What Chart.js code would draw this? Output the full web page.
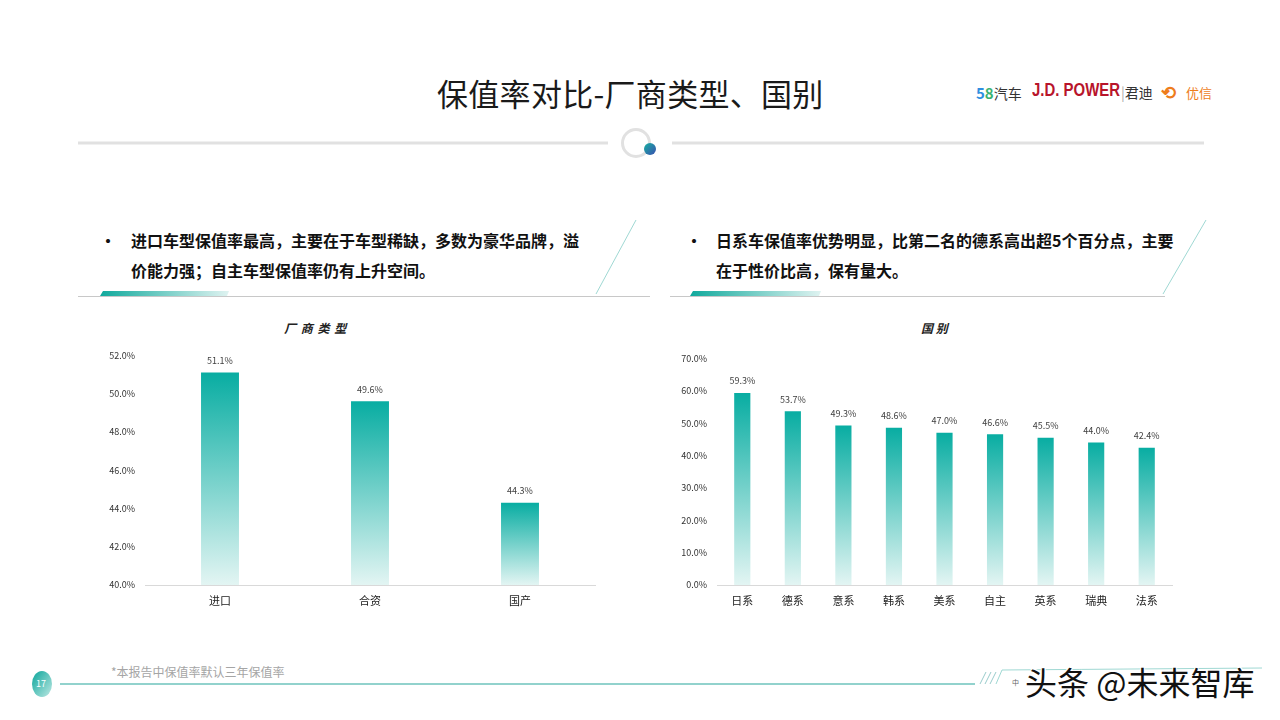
<!DOCTYPE html>
<html><head><meta charset="utf-8">
<script src="https://cdn.jsdelivr.net/npm/chart.js@4.4.0/dist/chart.umd.min.js"></script>
<style>
html,body{margin:0;padding:0;background:#fff;}
body{width:1280px;height:720px;position:relative;overflow:hidden;font-family:"Noto Sans CJK SC","Noto Sans",sans-serif;color:#222;}
.abs{position:absolute;white-space:nowrap;}
.bullet{font-weight:bold;font-size:16px;color:#111;line-height:30px;}
.ctitle{font-weight:bold;font-style:italic;font-size:12px;color:#222;}
</style></head><body>
<svg class="abs" style="left:0;top:0" width="1280" height="720">
  <defs>
    <linearGradient id="tg" x1="0" x2="1" y1="0" y2="0"><stop offset="0" stop-color="#10a99c"/><stop offset="1" stop-color="#dff3f1"/></linearGradient>
    <linearGradient id="tl" x1="0" x2="1" y1="0" y2="0"><stop offset="0" stop-color="#ffffff"/><stop offset="1" stop-color="#3bb7ad"/></linearGradient>
    <linearGradient id="pg" x1="0" x2="1" y1="0" y2="1"><stop offset="0" stop-color="#0aa59a"/><stop offset="1" stop-color="#bfe9e4"/></linearGradient>
    <linearGradient id="dot" x1="0" x2="1" y1="0" y2="1"><stop offset="0" stop-color="#17b0a0"/><stop offset="1" stop-color="#3a4fb0"/></linearGradient>
  </defs>
  <line x1="78" y1="143" x2="608" y2="143" stroke="#e1e1e1" stroke-width="3"/>
  <line x1="672" y1="143" x2="1204" y2="143" stroke="#e1e1e1" stroke-width="3"/>
  <circle cx="636" cy="143" r="13.5" fill="none" stroke="#e1e1e1" stroke-width="3"/>
  <circle cx="650" cy="149" r="6" fill="url(#dot)"/>
  <!-- left box -->
  <line x1="470" y1="220" x2="636" y2="220" stroke="url(#tl)" stroke-width="1"/>
  <line x1="636" y1="220" x2="596" y2="294" stroke="#9fd8d3" stroke-width="1"/>
  <line x1="78" y1="296.5" x2="650" y2="296.5" stroke="#c8c8c8" stroke-width="1"/>
  <polygon points="103,291 229,291 227,296 100,296" fill="url(#tg)"/>
  <!-- right box -->
  <line x1="1060" y1="220" x2="1206" y2="220" stroke="url(#tl)" stroke-width="1"/>
  <line x1="1206" y1="220" x2="1163" y2="294" stroke="#9fd8d3" stroke-width="1"/>
  <line x1="670" y1="296.5" x2="1165" y2="296.5" stroke="#c8c8c8" stroke-width="1"/>
  <polygon points="693,291 821,291 819,296 690,296" fill="url(#tg)"/>
  <!-- footer -->
  <line x1="60" y1="684" x2="975" y2="684" stroke="#92d2cd" stroke-width="2"/>
  <ellipse cx="42" cy="684" rx="10" ry="13" fill="url(#pg)"/>
  <line x1="980" y1="684" x2="986" y2="672" stroke="#9cc" stroke-width="1"/>
  <line x1="985" y1="684" x2="991" y2="672" stroke="#9cc" stroke-width="1"/>
  <line x1="990" y1="684" x2="996" y2="672" stroke="#9cc" stroke-width="1"/>
  <polyline points="996,684 1002,670 1262,668" fill="none" stroke="#9fd8d3" stroke-width="1"/>
</svg>

<div class="abs" style="left:437px;top:70px;font-size:31px;color:#1a1a1a;letter-spacing:0.3px;">保值率对比-厂商类型、国别</div>
<div class="abs" style="left:976px;top:82px;font-size:15px;font-weight:bold;"><span style="color:#2f8fe0">5</span><span style="color:#3cb371">8</span><span style="font-weight:normal;color:#333;font-size:14px;">汽车</span></div>
<div class="abs" style="left:1032px;top:80px;font-size:18px;font-weight:bold;color:#b8142b;font-family:'Liberation Sans',sans-serif;transform:scaleX(0.83);transform-origin:0 50%;">J.D. POWER</div>
<div class="abs" style="left:1121px;top:82px;font-size:14px;color:#333;"><span style="color:#aaa">|</span>君迪</div>
<div class="abs" style="left:1161px;top:78px;font-size:18px;font-weight:bold;color:#ee7d1c;">⟲</div>
<div class="abs" style="left:1186px;top:83px;font-size:13px;color:#ee7d1c;">优信</div>

<div class="abs bullet" style="left:100px;top:225px;">•</div>
<div class="abs bullet" style="left:131px;top:225px;">进口车型保值率最高，主要在于车型稀缺，多数为豪华品牌，溢<br>价能力强；自主车型保值率仍有上升空间。</div>
<div class="abs bullet" style="left:686px;top:225px;">•</div>
<div class="abs bullet" style="left:716px;top:225px;">日系车保值率优势明显，比第二名的德系高出超5个百分点，主要<br>在于性价比高，保有量大。</div>

<div class="abs ctitle" style="left:284px;top:319px;letter-spacing:1px;">厂 商 类 型</div>
<div class="abs ctitle" style="left:921px;top:319px;">国 别</div>

<div class="abs" style="left:90px;top:340px;width:520px;height:275px;"><canvas id="c1"></canvas></div>
<div class="abs" style="left:670px;top:343px;width:540px;height:272px;"><canvas id="c2"></canvas></div>

<div class="abs" style="left:36px;top:677px;font-size:9px;color:#fff;">17</div>
<div class="abs" style="left:111px;top:663px;font-size:12px;color:#a5a5a5;">*本报告中保值率默认三年保值率</div>
<div class="abs" style="left:1012px;top:677px;font-size:7px;color:#666;">中</div>
<div class="abs" style="left:1025px;top:658px;font-size:32px;color:#111;text-shadow:-1px -1px 0 #fff,1px -1px 0 #fff,-1px 1px 0 #fff,1px 1px 0 #fff;">头条 @未来智库</div>

<script>
const typeCategories = ['进口','合资','国产'];
const typeValues = [51.1, 49.6, 44.3];
const typeTicks = [40, 42, 44, 46, 48, 50, 52];

const countryCategories = ['日系','德系','意系','韩系','美系','自主','英系','瑞典','法系'];
const countryValues = [59.3, 53.7, 49.3, 48.6, 47.0, 46.6, 45.5, 44.0, 42.4];
const countryTicks = [0, 10, 20, 30, 40, 50, 60, 70];

const FONT = '"Noto Sans CJK SC","Noto Sans",sans-serif';

function gradFill(ctx){
  const chart = ctx.chart;
  const area = chart.chartArea;
  if(!area || ctx.raw === undefined) return '#0aafa3';
  const ys = chart.scales.y;
  const top = ys.getPixelForValue(ctx.raw);
  const g = chart.ctx.createLinearGradient(0, top, 0, area.bottom);
  g.addColorStop(0, '#08ada2');
  g.addColorStop(1, '#e3f5f3');
  return g;
}

const valueLabels = {
  id:'valueLabels',
  afterDatasetsDraw(chart){
    const c = chart.ctx;
    const ds = chart.data.datasets[0];
    const meta = chart.getDatasetMeta(0);
    c.save();
    c.font = '9px ' + FONT;
    c.fillStyle = '#404040';
    c.textAlign = 'center';
    c.textBaseline = 'middle';
    meta.data.forEach((bar,i)=>{
      c.fillText(ds.data[i].toFixed(1) + '%', bar.x, bar.y - 12);
    });
    c.restore();
  }
};

function makeChart(id, cats, vals, ticks, yWidth, pad, barPct){
  const min = ticks[0], max = ticks[ticks.length-1], step = ticks[1]-ticks[0];
  return new Chart(document.getElementById(id), {
    type:'bar',
    data:{labels:cats, datasets:[{data:vals, backgroundColor:gradFill, borderWidth:0, barPercentage:barPct, categoryPercentage:1}]},
    options:{
      responsive:true, maintainAspectRatio:false, animation:false,
      layout:{padding:pad},
      plugins:{legend:{display:false}, tooltip:{enabled:false}, title:{display:false}},
      scales:{
        x:{
          grid:{display:false, drawTicks:false},
          border:{display:true, color:'#d9d9d9', width:1},
          ticks:{font:{size:11, family:FONT}, color:'#222', padding:9, maxRotation:0},
          afterFit(s){ s.height = 30; }
        },
        y:{
          min:min, max:max,
          grid:{display:false, drawTicks:false},
          border:{display:false},
          ticks:{stepSize:step, font:{size:9, family:FONT}, color:'#333', padding:10,
            callback:(v)=>Number(v).toFixed(1)+'%'},
          afterFit(s){ s.width = yWidth; }
        }
      }
    },
    plugins:[valueLabels]
  });
}

makeChart('c1', typeCategories, typeValues, typeTicks, 55, {top:0, right:15, bottom:0, left:0}, 0.253);
makeChart('c2', countryCategories, countryValues, countryTicks, 47, {top:0, right:38, bottom:0, left:0}, 0.32);
</script>
</body></html>
